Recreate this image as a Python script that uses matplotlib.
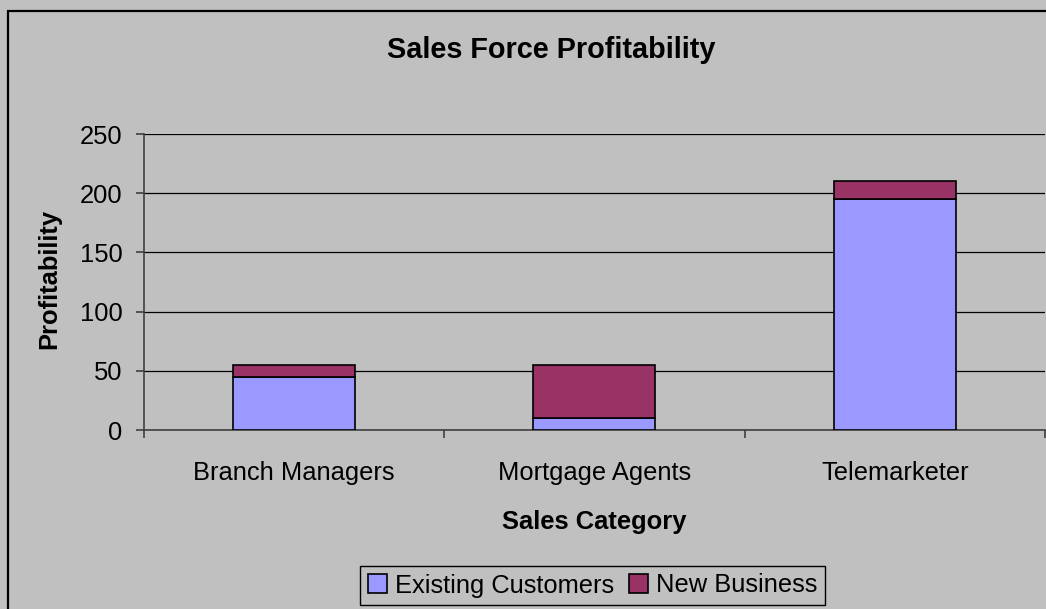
import matplotlib
matplotlib.use("Agg")
import matplotlib.pyplot as plt
from matplotlib.patches import Rectangle
import numpy as np

# ── Data ──────────────────────────────────────────────────────────────
categories = ["Branch Managers", "Mortgage Agents", "Telemarketer"]
existing   = [45, 10, 195]
new_biz    = [10, 45, 15]
yticks     = [0, 50, 100, 150, 200, 250]

BG      = "#C0C0C0"
C_EXIST = "#9999FF"
C_NEW   = "#993366"
FS      = 18.4

plt.rcParams["font.family"] = ["Liberation Sans", "DejaVu Sans"]

W, H = 1046, 609
fig = plt.figure(figsize=(W / 100, H / 100), dpi=100)
fig.patch.set_facecolor(BG)

# plot area in pixels: x 143..1045, y 134..430
ax = fig.add_axes([143.5 / W, 1 - 430 / H, (1045 - 143.5) / W, (430 - 134) / H])
ax.set_facecolor(BG)

x = np.arange(len(categories))
bw = 0.407
ax.bar(x, existing, bw, color=C_EXIST, edgecolor="black", lw=1.2,
       label="Existing Customers", zorder=3)
ax.bar(x, new_biz, bw, bottom=existing, color=C_NEW, edgecolor="black", lw=1.2,
       label="New Business", zorder=3)

ax.set_xlim(-0.5, len(categories) - 0.5)
ax.set_ylim(0, 250)
ax.set_yticks(yticks)
ax.yaxis.grid(True, color="black", lw=0.9, zorder=0)
ax.set_axisbelow(True)

for s in ("top", "right"):
    ax.spines[s].set_visible(False)
for s in ("left", "bottom"):
    ax.spines[s].set_color("#404040")
    ax.spines[s].set_linewidth(1.2)

ax.set_xticks(x)
ax.set_xticklabels(categories)
ax.set_xticks(np.arange(len(categories) + 1) - 0.5, minor=True)
ax.tick_params(axis="x", which="major", length=0, pad=22, labelsize=FS)
ax.tick_params(axis="x", which="minor", length=6, width=1.2, color="#404040",
               direction="out")
ax.tick_params(axis="y", length=6, width=1.2, color="#404040", direction="out",
               pad=9, labelsize=FS)

fig.text(551 / W, 1 - 50 / H, "Sales Force Profitability", ha="center",
         va="center", fontsize=20.8, fontweight="bold")
fig.text(594 / W, 1 - 522 / H, "Sales Category", ha="center", va="center",
         fontsize=FS, fontweight="bold")
fig.text(49.5 / W, 1 - 278.5 / H, "Profitability", ha="center", va="center",
         rotation=90, fontsize=FS, fontweight="bold")

leg = fig.legend(loc="center", bbox_to_anchor=(592.5 / W, 1 - 585.5 / H),
                 ncol=2, fontsize=FS, frameon=True, fancybox=False,
                 edgecolor="black", facecolor=BG, framealpha=1,
                 handlelength=0.75, handleheight=0.75, handletextpad=0.3,
                 columnspacing=0.6, borderpad=0.3, borderaxespad=0)
leg.get_frame().set_linewidth(1.0)

# outer chart border (runs off the right and bottom edges)
fig.patches.append(Rectangle((8 / W, -0.1), 1.2, 1.1 - 11 / H,
                             transform=fig.transFigure, fill=False,
                             edgecolor="black", lw=1.6))

fig.savefig("out.png", dpi=100, facecolor=BG)
